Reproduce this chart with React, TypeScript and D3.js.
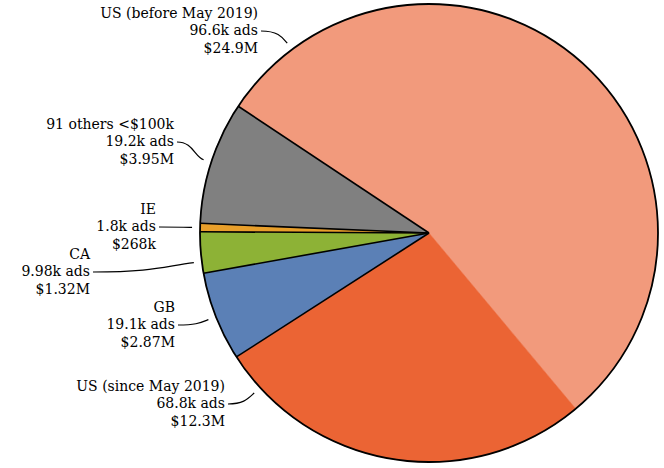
import React, { useEffect, useRef } from 'react';
import * as d3 from 'd3';

// slices in clockwise order, starting from the upper left
const regions = ["US (before May 2019)", "US (since May 2019)", "GB", "CA", "IE", "91 others <$100k"];
const adCounts = ["96.6k ads", "68.8k ads", "19.1k ads", "9.98k ads", "1.8k ads", "19.2k ads"];
const spendLabels = ["$24.9M", "$12.3M", "$2.87M", "$1.32M", "$268k", "$3.95M"];
const spend = [24.9, 12.3, 2.87, 1.32, 0.268, 3.95]; // million USD
const colors = ["#f29a7c", "#eb6434", "#5b80b6", "#8db236", "#e89f2b", "#808080"];

// label layout: right edge of text, baseline of the middle line, where the leader hits the slice
const labelRight = [258, 225, 175, 90, 156, 174];
const labelBaseline = [35, 408, 329, 276, 231, 146];
const anchorFrac = [0.1, 0.9, 0.5, 0.28, 0.5, 0.5];

const PieChart = () => {
    const svgRef = useRef<SVGSVGElement>(null);

    const width = 664;
    const height = 468;
    const cx = 429;
    const cy = 233;
    const radius = 229;
    const startAngle = -56.4 * Math.PI / 180;

    useEffect(() => {
        const svg = d3.select(svgRef.current);
        svg.selectAll("*").remove();

        const data = regions.map((r, i) => ({ i, region: r, value: spend[i] }));

        const pie = d3.pie<any>()
            .sort(null)
            .value(d => d.value)
            .startAngle(startAngle)
            .endAngle(startAngle + 2 * Math.PI);
        const arcs = pie(data);

        const arc = d3.arc<any>().innerRadius(0).outerRadius(radius);

        const g = svg.append("g").attr("transform", `translate(${cx},${cy})`);

        g.selectAll("path.slice")
            .data(arcs)
            .join("path")
            .attr("class", "slice")
            .attr("fill", d => colors[d.data.i])
            .attr("stroke", d => colors[d.data.i])
            .attr("stroke-width", 0.5)
            .attr("d", arc);

        // radial borders, the two US slices share no border
        const borders = arcs.filter(d => d.data.i !== 1).map(d => d.startAngle);
        g.selectAll("line.border")
            .data(borders)
            .join("line")
            .attr("class", "border")
            .attr("x1", 0).attr("y1", 0)
            .attr("x2", a => radius * Math.sin(a))
            .attr("y2", a => -radius * Math.cos(a))
            .attr("stroke", "#000")
            .attr("stroke-width", 1.6);

        g.append("circle")
            .attr("r", radius)
            .attr("fill", "none")
            .attr("stroke", "#000")
            .attr("stroke-width", 1.8);

        // labels
        const labels = svg.append("g")
            .attr("font-family", "DejaVu Serif")
            .attr("font-size", 14)
            .attr("fill", "#000")
            .attr("text-anchor", "end");

        arcs.forEach(d => {
            const i = d.data.i;
            const t = labels.append("text");
            [regions[i], adCounts[i], spendLabels[i]].forEach((s, k) => {
                t.append("tspan")
                    .attr("x", labelRight[i])
                    .attr("y", labelBaseline[i] + (k - 1) * 17.5)
                    .text(s);
            });

            const a = d.startAngle + (d.endAngle - d.startAngle) * anchorFrac[i];
            const ux = Math.sin(a), uy = -Math.cos(a);
            const ax = cx + (radius + 8) * ux;
            const ay = cy + (radius + 8) * uy;
            const x0 = labelRight[i] + 3;
            const y0 = labelBaseline[i] - 4;
            const dist = Math.hypot(ax - x0, ay - y0);
            const p = d3.path();
            p.moveTo(x0, y0);
            p.bezierCurveTo(x0 + (ax - x0) * 0.6, y0, ax + ux * dist * 0.3, ay + uy * dist * 0.3, ax, ay);
            svg.append("path")
                .attr("d", p.toString())
                .attr("fill", "none")
                .attr("stroke", "#000")
                .attr("stroke-width", 1.2);
        });
    }, []);

    return (
        <svg ref={svgRef} width={width} height={height}
            style={{ position: 'absolute', left: 0, top: 0, background: '#fff' }} />
    );
};

export default function App() {
    return <PieChart />;
}
